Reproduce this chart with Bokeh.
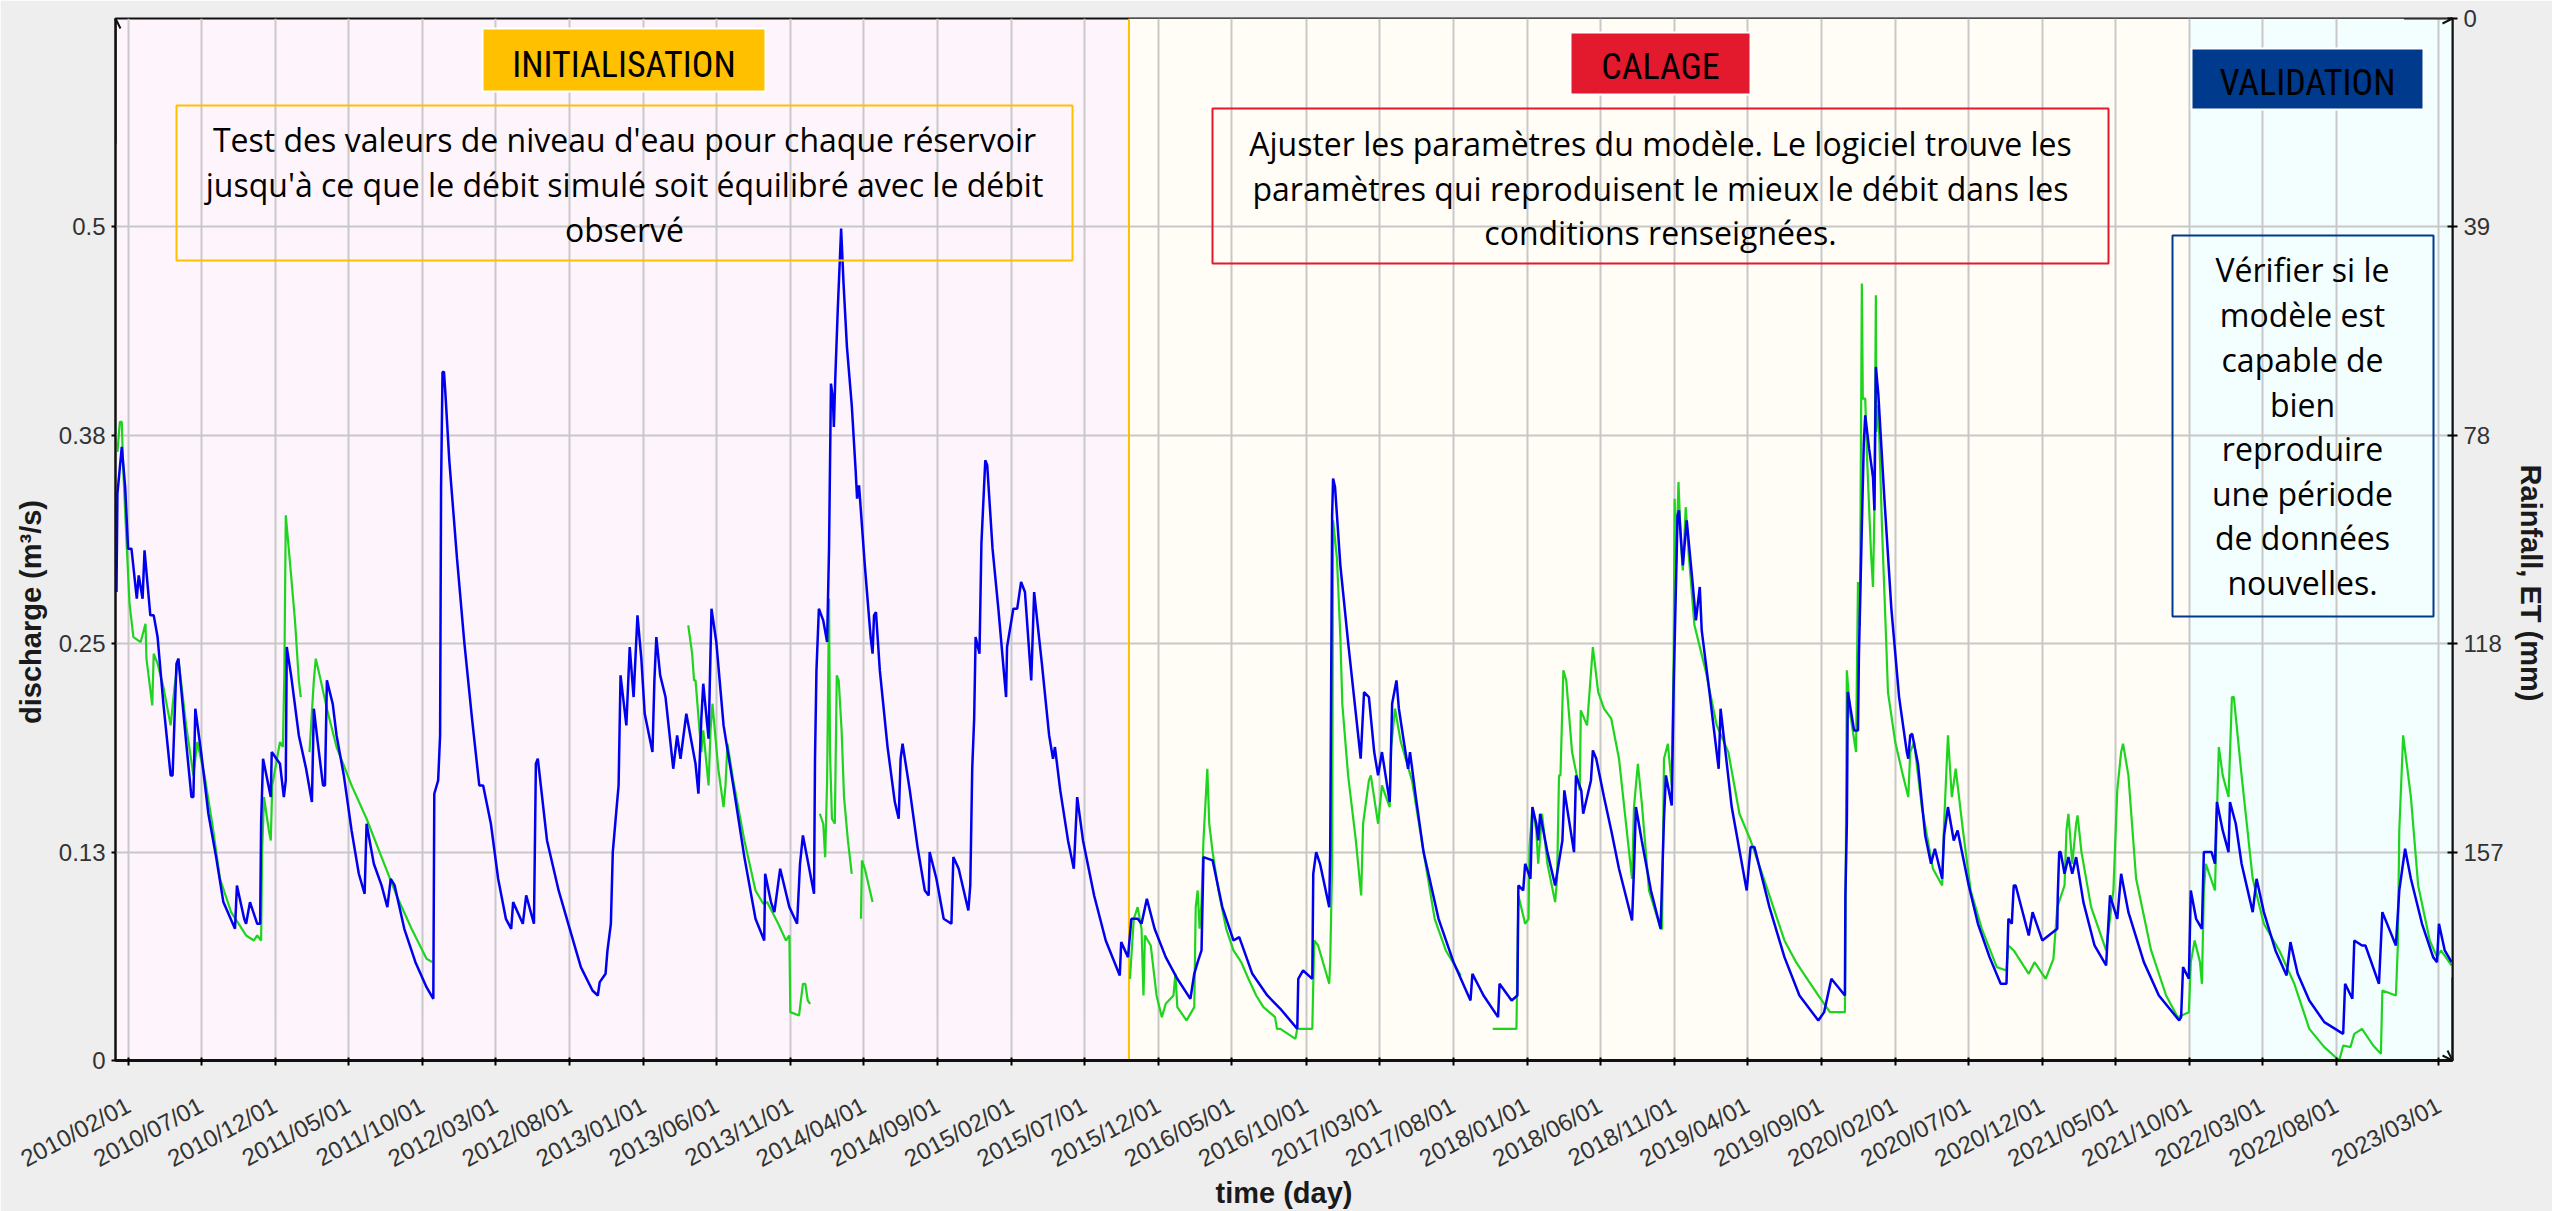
import math
import numpy as np
from bokeh.plotting import figure
from bokeh.models import (Range1d, LinearAxis, FixedTicker, DatetimeTickFormatter,
                          BoxAnnotation, Span, Label, Arrow, OpenHead)
from bokeh.embed import file_html
from bokeh.resources import INLINE

nan = float("nan")

# ---------------------------------------------------------------- data
START_DATE = "2010-02-01"          # day 0 of the day offsets below
X_SPAN_DAYS = [-27, 4804]          # visible time span (days from START_DATE)
Q_RANGE = [0, 0.625]               # discharge axis (m3/s)
RAIN_RANGE = [196.25, 0]           # rainfall / ET axis (mm), inverted

DATE_TICKS = ["2010/02/01", "2010/07/01", "2010/12/01", "2011/05/01", "2011/10/01",
              "2012/03/01", "2012/08/01", "2013/01/01", "2013/06/01", "2013/11/01",
              "2014/04/01", "2014/09/01", "2015/02/01", "2015/07/01", "2015/12/01",
              "2016/05/01", "2016/10/01", "2017/03/01", "2017/08/01", "2018/01/01",
              "2018/06/01", "2018/11/01", "2019/04/01", "2019/09/01", "2020/02/01",
              "2020/07/01", "2020/12/01", "2021/05/01", "2021/10/01", "2022/03/01",
              "2022/08/01", "2023/03/01"]
Q_TICKS = [0, 0.125, 0.25, 0.375, 0.5]
Q_TICK_LABELS = ["0", "0.13", "0.25", "0.38", "0.5"]
RAIN_TICKS = [0, 39.25, 78.5, 117.75, 157]
RAIN_TICK_LABELS = ["0", "39", "78", "118", "157"]

CALIBRATION_START = "2015-10-01"
VALIDATION_START = "2021-10-01"

# simulated discharge (blue)
SIM_DAY = [
    -25, -23, -14, -7, -1, 6, 17, 21, 29, 33,
    45, 52, 60, 72, 87, 91, 99, 103, 119, 130,
    134, 138, 150, 165, 181, 196, 220, 224, 239, 243,
    251, 266, 272, 274, 278, 294, 296, 313, 321, 325,
    327, 336, 352, 367, 379, 383, 391, 402, 406, 410,
    422, 430, 445, 461, 476, 488, 492, 507, 523, 535,
    542, 550, 570, 593, 616, 630, 632, 640, 644, 646,
    649, 652, 655, 663, 679, 694, 710, 725, 733, 749,
    764, 780, 791, 795, 815, 822, 838, 842, 846, 865,
    889, 912, 935, 959, 970, 974, 986, 990, 997, 1001,
    1009, 1013, 1017, 1025, 1029, 1036, 1044, 1052, 1060, 1067,
    1083, 1087, 1091, 1099, 1110, 1126, 1134, 1141, 1153,
    1172, 1178, 1184, 1188, 1199, 1205, 1215, 1230, 1250, 1273,
    1296, 1314, 1316, 1328, 1335, 1347, 1366, 1382, 1388, 1394,
    1417, 1419, 1422, 1427, 1436, 1444, 1448, 1452, 1456, 1458,
    1461, 1466, 1473, 1478, 1485, 1495, 1503, 1506, 1510, 1522,
    1534, 1538, 1541, 1545, 1553, 1569, 1584, 1592, 1596, 1600,
    1615, 1631, 1646, 1654, 1656, 1670, 1685, 1701, 1705, 1716,
    1736, 1740, 1744, 1748, 1751, 1759, 1763, 1771, 1775, 1786,
    1798, 1814, 1816, 1829, 1837, 1845, 1853, 1866, 1872, 1888,
    1903, 1911, 1915, 1926, 1942, 1954, 1961, 1973, 1996, 2020,
    2049, 2052, 2066, 2073, 2086, 2094, 2105, 2121, 2144, 2168,
    2195, 2203, 2210, 2218, 2222, 2241, 2261, 2284, 2296, 2323,
    2354,
    2381, 2416, 2418, 2428, 2447, 2449, 2455, 2463, 2482, 2484,
    2488, 2490, 2494, 2505, 2521, 2537, 2547, 2554, 2564, 2575,
    2583, 2591, 2607, 2612, 2621, 2626, 2638, 2645, 2649, 2661,
    2677, 2708, 2739, 2774, 2778, 2801, 2831, 2834, 2859, 2871,
    2873, 2883, 2887, 2898, 2902, 2910, 2914, 2918, 2933, 2949,
    2964, 2968, 2988, 2992, 3003, 3007, 3023, 3027, 3034, 3050,
    3065, 3081, 3108, 3112, 3116, 3128, 3147, 3167, 3174, 3178,
    3190, 3194, 3202, 3205, 3213, 3221, 3233, 3240, 3248, 3252,
    3268, 3287, 3291, 3314, 3345, 3353, 3361, 3392, 3423, 3454,
    3493, 3505, 3520, 3548, 3549, 3552, 3554, 3567, 3575, 3577,
    3583, 3587,
    3590, 3598, 3606, 3609, 3612, 3617, 3629, 3644, 3660, 3676,
    3679, 3683, 3687, 3699, 3714, 3726, 3734, 3749, 3753, 3761,
    3773, 3781, 3804, 3823, 3847, 3870, 3882, 3886, 3893, 3897,
    3901, 3928, 3936, 3956, 3987, 3988, 3991, 3994, 4002, 4010,
    4018, 4026, 4041, 4064, 4088, 4092, 4096, 4111, 4119, 4134,
    4166, 4197, 4239, 4243, 4247, 4259, 4263, 4274, 4286, 4290,
    4306, 4313, 4317, 4329, 4341, 4344, 4356, 4368, 4391, 4399,
    4414, 4438, 4461, 4469, 4484, 4508, 4539, 4578, 4582, 4597,
    4601, 4617, 4624, 4652, 4659, 4687, 4694, 4706, 4718, 4741,
    4764, 4772, 4776, 4788, 4802,
]
SIM_Q = [
    .281, .340, .368, .344, .307, .307, .277, .291, .277, .306,
    .267, .267, .254, .214, .171, .171, .238, .241, .191, .158,
    .158, .211, .185, .148, .122, .095, .079, .105, .085, .082,
    .095, .082, .082, .142, .181, .158, .185, .178, .158, .168,
    .248, .231, .195, .175, .155, .211, .191, .165, .165, .228,
    .214, .195, .171, .138, .112, .100, .142, .118, .105, .092,
    .109, .105, .079, .059, .044, .037, .160, .168, .195, .344,
    .413, .413, .400, .360, .301, .251, .205, .165, .165, .142,
    .109, .085, .079, .095, .082, .099, .082, .178, .181, .132,
    .102, .079, .056, .042, .039, .047, .052, .066, .082, .125,
    .152, .165, .231, .211, .201, .248, .218, .267, .241, .208,
    .185, .228, .254, .231, .218, .175, .195, .181, .208,
    .178, .160, .205, .226, .193, .271, .251, .201, .165, .122,
    .085, .072, .112, .095, .089, .115, .092, .082, .118, .135,
    .100, .181, .234, .271, .264, .251, .307, .406, .397, .380,
    .410, .450, .499, .466, .428, .393, .354, .337, .345, .297,
    .254, .244, .267, .269, .234, .188, .155, .145, .181, .190,
    .162, .128, .102, .099, .125, .109, .085, .082, .122, .115,
    .090, .105, .175, .205, .254, .244, .310, .360, .357, .307,
    .271, .218, .248, .271, .271, .287, .281, .228, .281, .238,
    .195, .181, .188, .162, .132, .115, .158, .132, .099, .072,
    .051, .071, .062, .085, .085, .082, .097, .079, .062, .049,
    .037, .052, .059, .066, .122, .120, .092, .072, .074, .052,
    .039,
    .031, .019, .049, .054, .049, .112, .125, .118, .092, .125,
    .327, .349, .344, .297, .251, .208, .181, .221, .218, .185,
    .171, .185, .155, .214, .228, .211, .188, .175, .185, .158,
    .125, .085, .059, .036, .052, .039, .026, .046, .036, .039,
    .105, .102, .118, .109, .152, .142, .132, .148, .125, .105,
    .132, .162, .125, .171, .162, .148, .168, .186, .181, .158,
    .138, .115, .084, .115, .152, .132, .102, .079, .145, .171,
    .153, .224, .327, .330, .297, .324, .287, .264, .284, .258,
    .221, .175, .211, .152, .102, .128, .128, .092, .062, .039,
    .024, .029, .049, .039, .099, .142, .221, .198, .198, .244,
    .320, .370,
    .387, .367, .350, .330, .416, .400, .340, .271, .218, .185,
    .181, .195, .196, .178, .135, .118, .127, .109, .135, .152,
    .132, .138, .105, .082, .062, .046, .046, .085, .082, .105,
    .105, .075, .089, .072, .079, .099, .125, .125, .112, .122,
    .112, .122, .095, .069, .057, .079, .099, .085, .112, .089,
    .059, .039, .024, .026, .056, .049, .102, .085, .079, .125,
    .125, .118, .155, .138, .125, .155, .142, .118, .089, .109,
    .089, .066, .051, .071, .052, .036, .023, .016, .046, .037,
    .072, .069, .069, .046, .089, .069, .102, .127, .109, .082,
    .062, .059, .082, .066, .059,
]

# observed discharge (green), nan = no observation
OBS_DAY = [
    -23, -18, -14, -11, -4, 2, 10, 25, 35, 37,
    49, 52, 60, 72, 87, 95, 103, 119, 134, 142,
    157, 173, 189, 212, 243, 259, 266, 274, 276, 280,
    290, 294, 297, 313, 319, 322, 325, 329, 336, 344,
    352, 356, 365, 374, 383, 387, 395, 410, 430, 461,
    492, 523, 554, 585, 616, 628, 900, 1157, 1165, 1169,
    1172, 1184, 1188, 1199, 1203, 1207, 1219, 1230, 1234, 1238,
    1250, 1273, 1296, 1312, 1320, 1343, 1359, 1366, 1368, 1386,
    1394, 1399, 1404, 1409, 1420, 1429, 1436, 1440, 1444, 1448,
    1450, 1454, 1460, 1464, 1468, 1474, 1479, 1487, 1495, 1505,
    1514, 1516, 1522, 1538, 1800, 2070, 2078, 2086, 2094, 2098,
    2101, 2113, 2125, 2136, 2144, 2160, 2164, 2168, 2187, 2203,
    2206, 2210, 2214, 2218, 2222, 2230, 2234, 2241, 2253, 2269,
    2284, 2300, 2315, 2331, 2346, 2370, 2374,
    2381, 2412, 2416, 2447, 2451, 2459, 2482, 2484, 2488, 2490,
    2498, 2505, 2509, 2521, 2537, 2548, 2552, 2564, 2568, 2583,
    2591, 2607, 2610, 2618, 2630, 2653, 2677, 2700, 2723, 2754,
    2790, 2820, 2869, 2873, 2887, 2894, 2896, 2902, 2910, 2914,
    2922, 2933, 2949, 2953, 2957, 2960, 2966, 2972, 2984,
    3000, 3002, 3015, 3027, 3038, 3050, 3065, 3081, 3097, 3108,
    3112, 3120, 3128, 3143, 3167, 3170, 3174, 3182, 3190, 3194,
    3196, 3199, 3204, 3209, 3213, 3219, 3225, 3237, 3260, 3283,
    3307, 3330, 3353, 3377, 3400, 3423, 3447, 3470, 3493, 3517,
    3548, 3549, 3552, 3559, 3571, 3575, 3579, 3583, 3585,
    3590, 3594, 3602, 3606, 3609, 3612, 3613, 3617, 3625, 3633,
    3637, 3652, 3668, 3679, 3683, 3691, 3707, 3730, 3749, 3753,
    3761, 3769, 3777, 3792, 3808, 3831, 3862, 3882, 3886, 3897,
    3928, 3940, 3963, 3979, 3987, 4002, 4006, 4010, 4018, 4026,
    4029, 4037, 4057, 4088, 4103, 4111, 4119, 4123, 4134, 4150,
    4181, 4212, 4236, 4259, 4263, 4271, 4282, 4286, 4290, 4294,
    4313, 4317, 4321, 4329, 4341, 4348, 4352, 4368, 4391, 4414,
    4446, 4477, 4508, 4539, 4570, 4578, 4593, 4601, 4617, 4640,
    4656, 4659, 4687, 4691, 4694, 4702, 4718, 4733, 4757, 4772,
    4780, 4802,
]
OBS_Q = [
    .365, .383, .383, .354, .310, .274, .254, .251, .262, .241,
    .213, .244, .238, .224, .201, .224, .241, .201, .171, .191,
    .171, .142, .109, .089, .075, .072, .075, .072, .125, .158,
    .138, .132, .165, .191, .188, .231, .327, .314, .291, .264,
    .228, .218, nan, .185, .228, .241, .231, .211, .188, .165,
    .145, .122, .099, .079, .061, .059, nan, .261, .244, .228,
    .228, .185, .198, .165, .198, .214, .175, .152, .165, .190,
    .168, .132, .102, .094, .095, .082, .072, .075, .029, .027,
    .046, .046, .036, .034, nan, .148, .142, .122, .168, .277,
    .185, .145, .142, .231, .228, .198, .158, .132, .112, nan,
    .085, .120, .115, .095, nan, .049, .085, .092, .079, .039,
    .075, .069, .039, .026, .034, .039, .052, .032, .024, .032,
    .092, .102, .079, .095, .132, .175, .142, .125, .102, .079,
    .066, .059, .049, .039, .032, .026, .019,
    .019, .013, .019, .019, .072, .069, .046, .059, .118, .324,
    .301, .254, .214, .171, .132, .099, .142, .168, .171, .142,
    .165, .152, .188, .211, .191, .168, .125, .085, .066, .051,
    nan, .019, .019, .099, .082, .085, .128, .152, .138, .118,
    .148, .118, .095, .109, .171, .171, .234, .228, .185,
    .162, .210, .201, .248, .221, .211, .205, .181, .138, .109,
    .152, .178, .155, .102, .079, .079, .181, .190, .165, .244,
    .337, .297, .347, .310, .294, .332, .304, .261, .234, .201,
    .185, .148, .132, .112, .092, .072, .059, .049, .039, .029,
    .029, .072, .234, .208, .185, .287, .261, .466, .397,
    .397, .360, .304, .284, .330, .459, .377, .393, .317, .254,
    .221, .191, .171, .158, .185, .191, .152, .115, .105, .142,
    .195, .158, .175, .138, .102, .079, .056, .054, .069, .066,
    .052, .059, .049, .061, .092, .105, .138, .148, .118, .142,
    .147, .125, .092, .066, .102, .162, .185, .190, .171, .109,
    .066, .039, .026, .029, .059, .072, .059, .046, .102, .118,
    .102, .148, .188, .171, .158, .218, .218, .171, .109, .082,
    .066, .046, .019, .008, .000, .009, .008, .016, .019, .009,
    .004, .042, .039, .069, .138, .195, .158, .105, .072, .062,
    .066, .057,
]
assert len(SIM_DAY) == len(SIM_Q)
assert len(OBS_DAY) == len(OBS_Q)

# ---------------------------------------------------------------- helpers
DAY_MS = 86_400_000
BASE_MS = int(np.datetime64(START_DATE, "ms").astype("int64"))


def day_ms(d):
    return float(BASE_MS + d * DAY_MS)


def date_ms(s):
    return float(np.datetime64(s.replace("/", "-"), "ms").astype("int64"))


X0, X1 = day_ms(X_SPAN_DAYS[0]), day_ms(X_SPAN_DAYS[1])

# layout in figure pixels (the figure fills the page)
FIG_W, FIG_H = 2552, 1211
FR_L, FR_R, FR_T, FR_B = 115, 2452, 18, 1060


def fx(px):
    return X0 + (px - FR_L) / (FR_R - FR_L) * (X1 - X0)


def fy(py):
    return Q_RANGE[1] - (py - FR_T) / (FR_B - FR_T) * (Q_RANGE[1] - Q_RANGE[0])


PINK = "#fdf5fb"
CREAM = "#fffdf5"
ICE = "#f3feff"
ORANGE = "#ffc000"
RED = "#e3192d"
NAVY = "#003a8c"
BLUE = "#0000ee"
GREEN = "#1fd41f"
GRID = "#c8c8c8"
TICK_FONT = "Liberation Sans"
EM = "\u2003"

p = figure(width=FIG_W, height=FIG_H, x_axis_type="datetime",
           x_range=Range1d(X0, X1), y_range=Range1d(Q_RANGE[0], Q_RANGE[1]),
           output_backend="svg", toolbar_location=None,
           min_border_left=FR_L, min_border_top=FR_T,
           min_border_right=FIG_W - FR_R, min_border_bottom=FIG_H - FR_B,
           background_fill_color=PINK, border_fill_color="#eeeeee",
           outline_line_color="#111111", outline_line_width=2)

p.extra_y_ranges = {"rain": Range1d(RAIN_RANGE[0], RAIN_RANGE[1])}

# grids
for g in (p.xgrid, p.ygrid):
    g.grid_line_color = GRID
    g.grid_line_width = 2

TITLE = dict(axis_label_text_font=TICK_FONT, axis_label_text_font_size="29px",
             axis_label_text_font_style="bold", axis_label_text_color="#1a1a1a")

# x axis
xa = p.xaxis[0]
xa.ticker = FixedTicker(ticks=[date_ms(t) for t in DATE_TICKS])
fmt = "%Y/%m/%d"
xa.formatter = DatetimeTickFormatter(days=fmt, months=fmt, years=fmt)
xa.major_label_orientation = 0.49
xa.major_label_standoff = 38
xa.major_label_text_font = TICK_FONT
xa.major_label_text_font_size = "24px"
xa.major_label_text_color = "#333333"
xa.major_tick_out = 5
xa.major_tick_in = 3
xa.minor_tick_line_color = None
xa.axis_line_width = 3
xa.axis_line_color = "#111111"
xa.major_tick_line_width = 2
xa.axis_label = "time (day)"
for k, v in TITLE.items():
    setattr(xa, k, v)
xa.axis_label_standoff = -10

# left axis
ya = p.yaxis[0]
ya.ticker = FixedTicker(ticks=Q_TICKS)
ya.major_label_overrides = dict(zip(Q_TICKS, Q_TICK_LABELS))
ya.major_label_text_font = TICK_FONT
ya.major_label_text_font_size = "24px"
ya.major_label_text_color = "#333333"
ya.major_label_standoff = 6
ya.major_tick_out = 4
ya.major_tick_in = 0
ya.minor_tick_line_color = None
ya.axis_line_width = 2
ya.axis_line_color = "#111111"
ya.major_tick_line_width = 2
ya.axis_label = "discharge (m³/s)" + EM * 5
for k, v in TITLE.items():
    setattr(ya, k, v)
ya.axis_label_standoff = 9

# right axis
ra = LinearAxis(y_range_name="rain", ticker=FixedTicker(ticks=RAIN_TICKS),
                major_label_overrides=dict(zip(RAIN_TICKS, RAIN_TICK_LABELS)),
                major_label_text_font=TICK_FONT, major_label_text_font_size="24px",
                major_label_text_color="#333333", major_label_standoff=6,
                major_tick_out=5, major_tick_in=5, minor_tick_line_color=None,
                axis_line_width=2, axis_line_color="#111111", major_tick_line_width=2,
                axis_label=EM * 3 + "Rainfall, ET (mm)", axis_label_standoff=8, **TITLE)
p.add_layout(ra, "right")

# background phases
cal_ms, val_ms = date_ms(CALIBRATION_START), date_ms(VALIDATION_START)
p.add_layout(BoxAnnotation(left=cal_ms, right=val_ms, fill_color=CREAM, fill_alpha=1,
                           line_alpha=0, level="image"))
p.add_layout(BoxAnnotation(left=val_ms, right=X1, fill_color=ICE, fill_alpha=1,
                           line_alpha=0, level="image"))
p.add_layout(Span(location=cal_ms, dimension="height", line_color=ORANGE,
                  line_width=2, level="underlay"))

# series
p.line([day_ms(d) for d in OBS_DAY], OBS_Q, line_color=GREEN, line_width=2.2)
p.line([day_ms(d) for d in SIM_DAY], SIM_Q, line_color=BLUE, line_width=2.5)


# axis arrows
def arrow(xs, ys, xe, ye):
    p.add_layout(Arrow(end=OpenHead(size=10, line_width=2, line_color="#111111"),
                       x_start=xs, y_start=ys, x_end=xe, y_end=ye,
                       line_width=2, line_color="#111111"))


arrow(X0, 0.55, X0, Q_RANGE[1])
arrow(X1 - 100 * DAY_MS, Q_RANGE[1], X1, Q_RANGE[1])
arrow(X1, 0.05, X1, 0)
arrow(X1 - 100 * DAY_MS, 0, X1, 0)

# phase tags and explanation boxes
PHASE_FONT = "'Roboto Condensed', Roboto"
TEXT_FONT = "Open Sans"
TAG_SHIFT = 11      # Bokeh places "alphabetic" text a little low
NOTE_SHIFT = 9


def tag(l, t, r, b, color, text, baseline):
    p.add_layout(BoxAnnotation(left=fx(l), right=fx(r), top=fy(t), bottom=fy(b),
                               fill_color=color, fill_alpha=1, line_color="white",
                               line_alpha=1, line_width=2))
    p.add_layout(Label(x=fx((l + r) / 2), y=fy(baseline - TAG_SHIFT), text=text,
                       text_align="center", text_baseline="alphabetic",
                       text_font=PHASE_FONT, text_font_size="36px",
                       text_color="black"))


def note(l, t, r, b, color, cx, lines, baselines):
    p.add_layout(BoxAnnotation(left=fx(l), right=fx(r), top=fy(t), bottom=fy(b),
                               fill_alpha=0, line_color=color, line_alpha=1,
                               line_width=2))
    for s, by in zip(lines, baselines):
        p.add_layout(Label(x=fx(cx), y=fy(by - NOTE_SHIFT), text=s, text_align="center",
                           text_baseline="alphabetic", text_font=TEXT_FONT,
                           text_font_size="32px", text_color="black"))


tag(482, 28, 765, 91, ORANGE, "INITIALISATION", 75)
note(176, 105, 1072, 260, ORANGE, 624,
     ["Test des valeurs de niveau d'eau pour chaque réservoir",
      "jusqu'à ce que le débit simulé soit équilibré avec le débit",
      "observé"], [148, 193, 238])

tag(1570, 32, 1750, 94, RED, "CALAGE", 77)
note(1212, 108, 2108, 263, RED, 1660,
     ["Ajuster les paramètres du modèle. Le logiciel trouve les",
      "paramètres qui reproduisent le mieux le débit dans les",
      "conditions renseignées."], [152, 197, 241])

tag(2191, 48, 2423, 109, NAVY, "VALIDATION", 93)
note(2172, 235, 2433, 616, NAVY, 2302,
     ["Vérifier si le", "modèle est", "capable de", "bien", "reproduire",
      "une période", "de données", "nouvelles."],
     [278, 323, 368, 413, 457, 502, 546, 591])

open("out.html", "w").write(file_html(p, INLINE))
